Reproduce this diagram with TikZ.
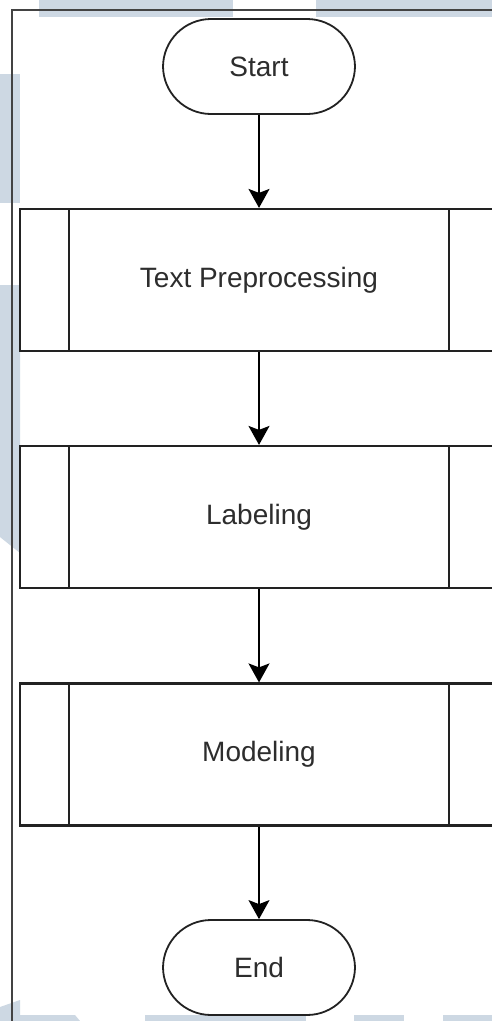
\documentclass[tikz,border=0pt]{standalone}
\usepackage{fontspec}
\setmainfont{Liberation Sans}
\usetikzlibrary{arrows.meta}

\definecolor{wmark}{RGB}{205,216,227}
\definecolor{ink}{RGB}{34,34,34}
\definecolor{txt}{RGB}{45,45,45}

\tikzset{
  terminal/.style={draw=ink, line width=1.8pt, fill=white, rounded corners=48pt,
    minimum width=192pt, minimum height=95pt, inner sep=0pt,
    font=\fontsize{28}{32}\selectfont, text=txt},
  subproc/.style={draw=ink, line width=2.2pt, fill=white,
    minimum width=478pt, minimum height=142pt, inner sep=0pt,
    font=\fontsize{28}{32}\selectfont, text=txt,
    path picture={
      \draw[ink, line width=2.2pt]
        ([xshift=49pt]path picture bounding box.north west) --
        ([xshift=49pt]path picture bounding box.south west);
      \draw[ink, line width=2.2pt]
        ([xshift=-49pt]path picture bounding box.north east) --
        ([xshift=-49pt]path picture bounding box.south east);
    }},
  flow/.style={draw=black, line width=1.6pt,
    -{Stealth[length=19pt, width=21pt, inset=4pt]}},
  frameline/.style={draw=ink!85, line width=1.1pt},
  wm/.style={fill=wmark, draw=none}
}

\begin{document}
\begin{tikzpicture}[x=1pt, y=-1pt]
  \clip (0,0) rectangle (492,1021);
  \fill[white] (0,0) rectangle (492,1021);

  % background watermark bands
  \fill[wm] (39,0) rectangle (233,17);
  \fill[wm] (316,0) rectangle (492,17);
  \fill[wm] (0,74) rectangle (20,203);
  \fill[wm] (0,285) -- (20,285) -- (20,553) -- (0,537) -- cycle;
  \fill[wm] (0,1007) -- (20,1000) -- (20,1021) -- (0,1021) -- cycle;
  \fill[wm] (20,1015) -- (75,1015) -- (80,1021) -- (20,1021) -- cycle;
  \fill[wm] (145,1015) rectangle (306,1021);
  \fill[wm] (354,1015) rectangle (404,1021);
  \fill[wm] (443,1015) rectangle (492,1021);

  % outer frame
  \draw[frameline] (12,1021) -- (12,10) -- (492,10);

  % flowchart
  \node[terminal] (start) at (259,66.5) {Start};
  \node[subproc] (prep) at (259,280) {Text Preprocessing};
  \node[subproc] (label) at (259,517) {Labeling};
  \node[subproc] (model) at (259,754.5) {Modeling};
  \node[terminal] (end) at (259,967.5) {End};

  \draw[flow] (start) -- (prep);
  \draw[flow] (prep) -- (label);
  \draw[flow] (label) -- (model);
  \draw[flow] (model) -- (end);
\end{tikzpicture}
\end{document}
